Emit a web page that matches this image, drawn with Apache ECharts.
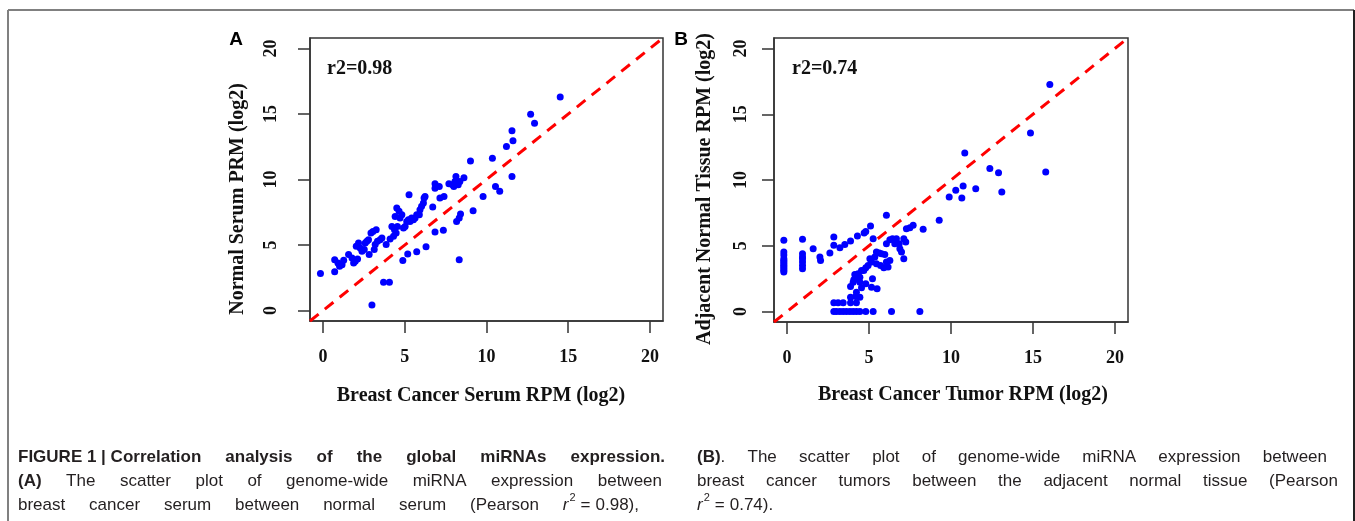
<!DOCTYPE html>
<html><head><meta charset="utf-8">
<script src="https://cdn.jsdelivr.net/npm/echarts@6/dist/echarts.min.js"></script>
<style>html,body{margin:0;padding:0;background:#fff}#c{width:1355px;height:521px}</style>
</head><body><div id="c"></div>
<script>
// ---------- data ----------
const ticks = [0, 5, 10, 15, 20];
const tickLabels = ['0', '5', '10', '15', '20'];

// Panel A: breast cancer serum (x) vs normal serum (y)
const aX = [-0.16,0.71,0.71,0.91,1.01,1.16,1.26,1.56,1.77,1.87,1.97,2.11,2.03,2.17,2.27,2.38,2.52,2.58,2.68,2.78,2.82,2.93,3.05,3.13,3.19,3.25,3.33,3.49,3.60,3.86,4.10,4.21,4.31,4.37,4.41,4.47,4.51,4.55,4.65,4.71,4.82,4.92,5.02,5.12,5.22,5.32,5.42,5.53,5.63,5.73,5.89,5.93,6.03,6.14,6.18,6.24,5.26,3.70,4.06,2.99,4.88,5.18,5.73,6.30,6.71,6.85,6.85,7.11,7.15,7.40,6.85,7.36,7.70,7.92,8.00,8.07,8.13,8.27,8.37,8.62,9.02,8.17,8.33,8.41,8.33,9.18,9.79,10.36,10.55,10.81,11.22,11.56,11.62,11.56,12.70,12.94,14.51];
const aY = [2.82,2.95,3.88,3.63,3.38,3.50,3.83,4.27,4.01,3.63,3.76,3.94,4.90,5.15,4.77,4.52,4.65,5.15,5.28,5.41,4.27,5.92,6.04,4.65,5.03,6.17,5.28,5.41,5.53,5.03,5.46,6.42,5.66,6.17,7.18,5.92,7.82,6.42,7.57,7.06,7.31,6.30,6.42,6.80,6.93,6.80,7.06,6.93,7.06,7.31,7.31,7.69,7.95,8.20,8.58,8.71,8.83,2.16,2.16,0.43,3.81,4.32,4.49,4.87,7.90,9.67,9.34,9.47,8.58,8.71,5.99,6.12,9.67,9.60,9.47,9.85,10.23,9.60,9.85,10.13,11.42,6.80,7.06,7.36,3.88,7.62,8.71,11.63,9.47,9.11,12.52,13.73,12.95,10.23,14.98,14.29,16.30];

// Panel B: breast cancer tumor (x) vs adjacent normal tissue (y)
const bX = [-0.2,-0.2,-0.2,-0.2,-0.2,-0.2,-0.2,-0.2,-0.2,-0.2,-0.2,-0.2,0.94,0.94,0.94,0.94,0.94,0.94,0.94,1.59,2.00,2.04,2.61,2.85,2.85,3.22,3.52,3.87,4.29,4.70,4.80,5.09,6.06,5.25,6.06,6.27,6.43,6.67,6.57,6.84,7.12,7.24,6.88,6.98,7.12,7.28,7.49,7.69,8.30,9.28,9.89,10.29,10.66,10.74,10.84,11.51,12.37,12.90,13.10,14.85,15.78,16.03,5.45,5.62,5.76,5.96,5.35,5.05,5.15,5.45,5.70,5.90,6.16,6.27,6.06,4.94,4.80,4.68,4.54,4.33,4.13,4.44,4.23,4.07,4.03,4.44,3.87,4.54,4.23,3.87,4.19,4.44,5.21,5.15,5.49,4.80,2.85,3.11,3.42,3.87,4.23,2.85,3.01,3.22,3.42,3.62,3.83,4.03,4.23,4.44,4.80,5.25,6.37,8.10];
const bY = [5.41,4.52,4.30,4.01,3.88,3.76,3.63,3.50,3.38,3.25,3.12,3.00,5.49,4.39,4.14,4.01,3.76,3.50,3.25,4.77,4.14,3.88,4.44,5.66,5.03,4.85,5.10,5.36,5.74,5.97,6.09,6.50,7.31,5.53,5.15,5.46,5.53,5.53,5.15,5.15,5.53,5.28,4.77,4.52,4.01,6.30,6.37,6.55,6.25,6.93,8.71,9.22,8.63,9.55,12.06,9.34,10.87,10.56,9.09,13.58,10.61,17.26,4.52,4.44,4.39,4.34,4.14,4.01,3.76,3.63,3.50,3.33,3.38,3.88,3.76,3.50,3.33,3.12,3.12,2.87,2.82,2.61,2.49,2.41,2.23,2.23,1.90,1.80,1.47,1.09,1.14,1.09,2.49,1.85,1.73,2.11,0.66,0.66,0.66,0.66,0.66,0,0,0,0,0,0,0,0,0,0,0,0,0];

// identity reference line (drawn across the full axis range)
const diagX = [-0.8, 20.8];
const diagY = [-0.8, 20.8];

const panelLetters = ['A', 'B'];
const r2Labels = ['r2=0.98', 'r2=0.74'];
const xTitles = ['Breast Cancer Serum RPM (log2)', 'Breast Cancer Tumor RPM (log2)'];
const yTitles = ['Normal Serum PRM (log2)', 'Adjacent Normal Tissue RPM (log2)'];

// caption tokens (g: gap before token: undefined=justified, number=fixed px)
const captionLeft = [
  [{t:'FIGURE 1 | Correlation',b:1},{t:'analysis',b:1},{t:'of',b:1},{t:'the',b:1},{t:'global',b:1},{t:'miRNAs',b:1},{t:'expression.',b:1}],
  [{t:'(A)',b:1},{t:'The'},{t:'scatter'},{t:'plot'},{t:'of'},{t:'genome-wide'},{t:'miRNA'},{t:'expression'},{t:'between'}],
  [{t:'breast'},{t:'cancer'},{t:'serum'},{t:'between'},{t:'normal'},{t:'serum'},{t:'(Pearson'},{t:'r',i:1},{t:'2',sup:1,g:1},{t:'=',g:5},{t:'0.98),',g:5}]
];
const captionRight = [
  [{t:'(B)',b:1},{t:'.',g:0},{t:'The'},{t:'scatter'},{t:'plot'},{t:'of'},{t:'genome-wide'},{t:'miRNA'},{t:'expression'},{t:'between'}],
  [{t:'breast'},{t:'cancer'},{t:'tumors'},{t:'between'},{t:'the'},{t:'adjacent'},{t:'normal'},{t:'tissue'},{t:'(Pearson'}],
  [{t:'r',i:1},{t:'2',sup:1,g:1},{t:'=',g:5},{t:'0.74).',g:5}]
];

// ---------- layout ----------
const serif = 'Liberation Serif, Times New Roman, serif';
const capFamily = '"Liberation Sans", Arial, sans-serif';
const capSize = 17;

const grids = [
  {left: 310, top: 38, width: 353, height: 283},
  {left: 774, top: 38, width: 354, height: 284}
];

function fmt(v) { const k = ticks.indexOf(v); return k >= 0 ? tickLabels[k] : ''; }

const option = {
  animation: false,
  backgroundColor: '#fff',
  grid: grids.map(g => Object.assign({show: true, borderColor: '#333', borderWidth: 1.5, backgroundColor: 'transparent'}, g)),
  xAxis: [0, 1].map(i => ({
    gridIndex: i, type: 'value', min: -0.8, max: 20.8,
    axisLine: {show: true, onZero: false, lineStyle: {color: '#333', width: 1.5}},
    splitLine: {show: false},
    axisTick: {show: true, customValues: ticks, length: 12, lineStyle: {color: '#333', width: 1.5}},
    axisLabel: {customValues: ticks, formatter: fmt, margin: 27, fontFamily: serif, fontWeight: 'bold', fontSize: 18, color: '#111'}
  })),
  yAxis: [0, 1].map(i => ({
    gridIndex: i, type: 'value', min: -0.8, max: 20.8,
    axisLine: {show: true, onZero: false, lineStyle: {color: '#333', width: 1.5}},
    splitLine: {show: false},
    axisTick: {show: true, customValues: ticks, length: 12, lineStyle: {color: '#333', width: 1.5}},
    axisLabel: {customValues: ticks, formatter: fmt, rotate: 90, margin: i === 0 ? 30 : 24, fontFamily: serif, fontWeight: 'bold', fontSize: 18, color: '#111'}
  })),
  series: [
    {type: 'line', xAxisIndex: 0, yAxisIndex: 0, data: diagX.map((x, k) => [x, diagY[k]]), symbol: 'none', clip: true, silent: true, z: 1,
     lineStyle: {color: '#ff0000', width: 3, type: [11, 8]}},
    {type: 'scatter', xAxisIndex: 0, yAxisIndex: 0, data: aX.map((x, k) => [x, aY[k]]), symbolSize: 7, silent: true, z: 2,
     itemStyle: {color: '#0000ff', opacity: 1}},
    {type: 'line', xAxisIndex: 1, yAxisIndex: 1, data: diagX.map((x, k) => [x, diagY[k]]), symbol: 'none', clip: true, silent: true, z: 1,
     lineStyle: {color: '#ff0000', width: 3, type: [11, 8]}},
    {type: 'scatter', xAxisIndex: 1, yAxisIndex: 1, data: bX.map((x, k) => [x, bY[k]]), symbolSize: 7, silent: true, z: 2,
     itemStyle: {color: '#0000ff', opacity: 1}}
  ],
  graphic: []
};

// ---------- annotations ----------
const G = option.graphic;
// figure frame
G.push({type: 'line', shape: {x1: 8, y1: 10, x2: 1354, y2: 10}, style: {stroke: '#808080', lineWidth: 2}, silent: true});
G.push({type: 'line', shape: {x1: 8, y1: 10, x2: 8, y2: 521}, style: {stroke: '#808080', lineWidth: 2}, silent: true});
G.push({type: 'line', shape: {x1: 1354, y1: 10, x2: 1354, y2: 521}, style: {stroke: '#222', lineWidth: 2}, silent: true});

const letterPos = [[236, 40], [681, 40]];
const r2Pos = [[327, 69], [792, 69]];
const xTitlePos = [[481, 396], [963, 395]];
const yTitlePos = [[238, 199], [705, 189]];
for (let i = 0; i < 2; i++) {
  G.push({type: 'text', x: letterPos[i][0], y: letterPos[i][1], silent: true,
    style: {text: panelLetters[i], font: 'bold 19px Liberation Sans, Arial, sans-serif', fill: '#000', textAlign: 'center', textVerticalAlign: 'middle'}});
  G.push({type: 'text', x: r2Pos[i][0], y: r2Pos[i][1], silent: true,
    style: {text: r2Labels[i], font: 'bold 20px ' + serif, fill: '#111', textAlign: 'left', textVerticalAlign: 'middle'}});
  G.push({type: 'text', x: xTitlePos[i][0], y: xTitlePos[i][1], silent: true,
    style: {text: xTitles[i], font: 'bold 20px ' + serif, fill: '#111', textAlign: 'center', textVerticalAlign: 'middle'}});
  G.push({type: 'text', x: yTitlePos[i][0], y: yTitlePos[i][1], rotation: Math.PI / 2, silent: true,
    style: {text: yTitles[i], font: 'bold 20px ' + serif, fill: '#111', textAlign: 'center', textVerticalAlign: 'middle'}});
}

// ---------- caption with justified lines ----------
const mctx = document.createElement('canvas').getContext('2d');
function tokFont(tk) {
  const size = tk.sup ? 11 : capSize;
  return (tk.i ? 'italic ' : '') + (tk.b ? 'bold ' : '') + size + 'px ' + capFamily;
}
function layoutLine(tokens, x0, x1, y, justify) {
  mctx.font = 'normal ' + capSize + 'px ' + capFamily;
  const space = mctx.measureText(' ').width;
  const widths = tokens.map(tk => { mctx.font = tokFont(tk); return mctx.measureText(tk.t).width; });
  let fixed = 0, nFlex = 0;
  tokens.forEach((tk, k) => {
    fixed += widths[k];
    if (k > 0) { if (tk.g !== undefined) fixed += tk.g; else nFlex++; }
  });
  const gap = (justify && nFlex > 0) ? (x1 - x0 - fixed) / nFlex : space;
  let x = x0;
  tokens.forEach((tk, k) => {
    if (k > 0) x += (tk.g !== undefined ? tk.g : gap);
    G.push({type: 'text', x: x, y: tk.sup ? y - 7 : y, silent: true,
      style: {text: tk.t, font: tokFont(tk), fill: '#231f20', textAlign: 'left', textVerticalAlign: 'middle'}});
    x += widths[k];
  });
}
const lineY = [457, 481, 505];
const leftEnds = [665, 662, 639];
const rightEnds = [1327, 1338, 0];
captionLeft.forEach((ln, k) => layoutLine(ln, 18, leftEnds[k], lineY[k], true));
captionRight.forEach((ln, k) => layoutLine(ln, 697, rightEnds[k], lineY[k], k < 2));

const chart = echarts.init(document.getElementById('c'), null, {renderer: 'canvas'});
chart.setOption(option);
</script>
</body></html>
